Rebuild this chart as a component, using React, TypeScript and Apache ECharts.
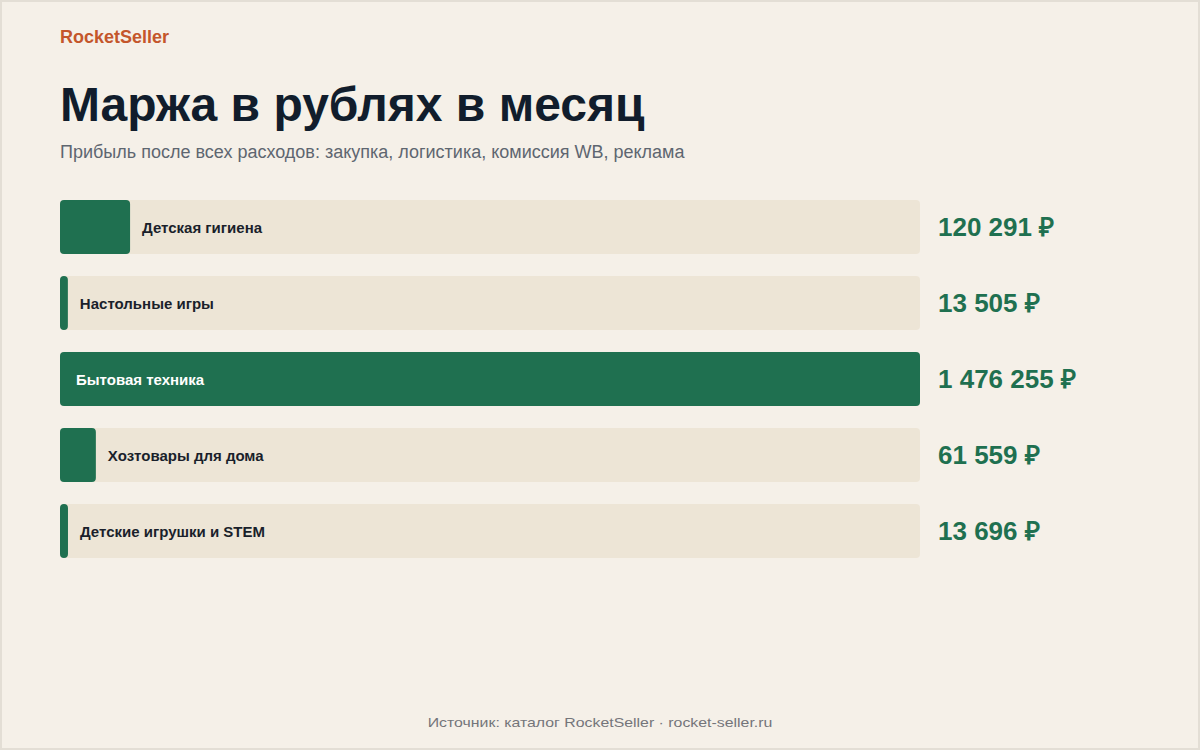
import React, { useEffect, useRef } from "react";
import * as echarts from "echarts";

const categories = [
  "Детская гигиена",
  "Настольные игры",
  "Бытовая техника",
  "Хозтовары для дома",
  "Детские игрушки и STEM",
];
const values = [120291, 13505, 1476255, 61559, 13696];

const brand = "RocketSeller";
const title = "Маржа в рублях в месяц";
const subtitle = "Прибыль после всех расходов: закупка, логистика, комиссия WB, реклама";
const footer = "Источник: каталог RocketSeller · rocket-seller.ru";

const GREEN = "#1f7050";
const TRACK = "#ede5d6";
const BG = "#f5f0e8";
const FONT = "'Liberation Sans', Arial, sans-serif";

function fmt(v: number): string {
  return String(v).replace(/\B(?=(\d{3})+(?!\d))/g, " ") + " ₽";
}

export default function App() {
  const ref = useRef<HTMLDivElement>(null);
  useEffect(() => {
    document.body.style.margin = "0";
    const chart = echarts.init(ref.current!, null, { renderer: "svg" });
    const maxV = Math.max(...values);
    const data = values.map((v) => {
      const big = v === maxV;
      return {
        value: v,
        label: big
          ? { position: "insideLeft", distance: 16, color: "#ffffff" }
          : { position: "right", distance: 12, color: "#1a1f2b" },
      };
    });
    chart.setOption({
      animation: false,
      backgroundColor: BG,
      textStyle: { fontFamily: FONT },
      grid: { left: 60, width: 860, top: 189, height: 380 },
      xAxis: { type: "value", min: 0, max: maxV, show: false },
      yAxis: [
        {
          type: "category",
          data: categories,
          inverse: true,
          show: false,
        },
        {
          type: "category",
          data: values.map(fmt),
          inverse: true,
          position: "right",
          axisLine: { show: false },
          axisTick: { show: false },
          axisLabel: {
            margin: 18,
            align: "left",
            fontSize: 26,
            fontWeight: "bold",
            color: GREEN,
            fontFamily: FONT,
            padding: [0, 0, 2, 0],
          },
        },
      ],
      series: [
        {
          type: "bar",
          yAxisIndex: 0,
          data,
          barWidth: 54,
          itemStyle: { color: GREEN, borderRadius: 4 },
          showBackground: true,
          backgroundStyle: { color: TRACK, borderRadius: 4 },
          label: {
            show: true,
            formatter: (p: any) => categories[p.dataIndex],
            fontSize: 15,
            fontWeight: "bold",
            fontFamily: FONT,
          },
        },
      ],
      graphic: [
        {
          type: "rect",
          shape: { x: 1, y: 1, width: 1198, height: 748 },
          style: { fill: "none", stroke: "#e3ded5", lineWidth: 2 },
          silent: true,
        },
        {
          type: "text",
          left: 60,
          top: 28,
          style: { text: brand, font: `bold 18px ${FONT}`, fill: "#c4562b" },
        },
        {
          type: "text",
          left: 60,
          top: 80,
          style: { text: title, font: `bold 48px ${FONT}`, fill: "#111d2c" },
        },
        {
          type: "text",
          left: 60,
          top: 143,
          style: { text: subtitle, font: `18px ${FONT}`, fill: "#5e6670" },
        },
        {
          type: "text",
          x: 600,
          y: 723,
          scaleX: 1.22,
          style: {
            text: footer,
            font: `13px ${FONT}`,
            fill: "#74757a",
            align: "center",
            verticalAlign: "middle",
          },
        },
      ],
    });
    return () => chart.dispose();
  }, []);
  return <div ref={ref} style={{ width: 1200, height: 750 }} />;
}
